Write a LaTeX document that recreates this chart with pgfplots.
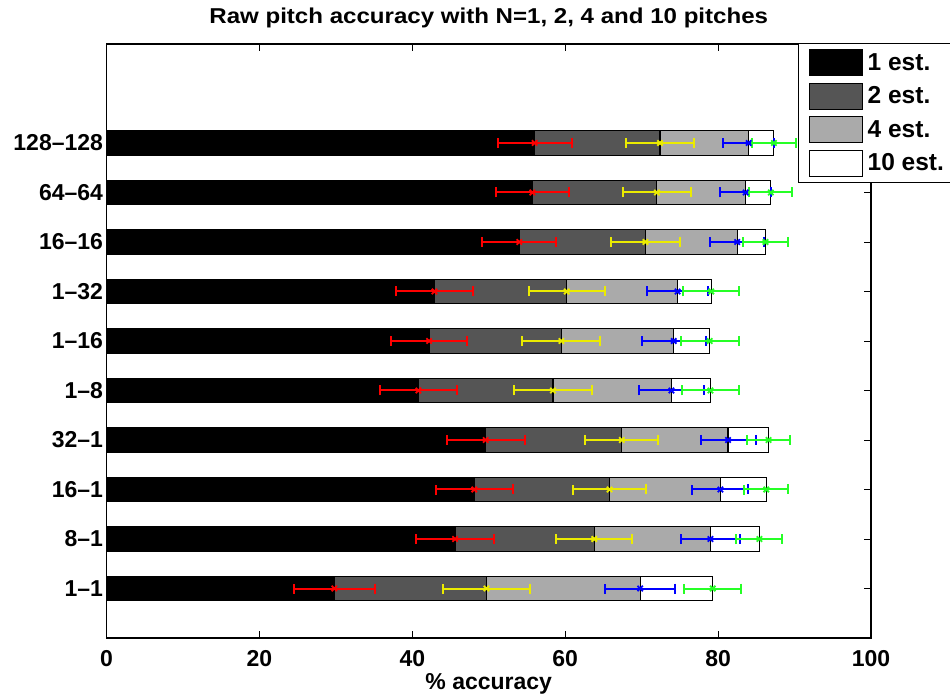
\documentclass[border=0pt]{standalone}
\usepackage{graphicx}
\usepackage{pgfplots}
\pgfplotsset{compat=1.18}
\usepackage{fontspec}
\setmainfont{Liberation Sans}
\definecolor{dgray}{gray}{0.333}
\definecolor{lgray}{gray}{0.667}
\definecolor{myyellow}{rgb}{0.92,0.92,0}
\definecolor{mygreen}{rgb}{0.15,1,0.15}
\newcommand\F{\fontsize{23}{27}\selectfont\bfseries}
\newcommand\T{\fontsize{21.5}{25}\selectfont\bfseries}
\newcommand\LF{\fontsize{24.5}{28}\selectfont\bfseries}
\pgfplotsset{
  errstyle/.style={only marks, mark=x, mark size=3.8pt, line width=2pt, forget plot,
    mark options={#1, line width=1.8pt},
    error bars/.cd, x dir=both, x explicit,
    error bar style={line width=2pt, #1},
    error mark options={rotate=90, mark size=5pt, line width=2pt, #1}},
  barstyle/.style={xbar, bar width=0.5, bar shift=0pt, fill=#1, draw=black, line width=1.1pt}
}
\begin{document}
\begin{tikzpicture}
\begin{axis}[
  at={(106.5pt,61pt)}, anchor=south west,
  width=764.5pt, height=594pt, scale only axis,
  xmin=0, xmax=100, ymin=0, ymax=12,
  xtick={0,20,40,60,80,100},
  xticklabels={0,20,40,60,80,100},
  ytick={1,2,3,4,5,6,7,8,9,10},
  yticklabels={1--1,8--1,16--1,32--1,1--8,1--16,1--32,16--16,64--64,128--128},
  tick align=inside,
  major tick length=7pt,
  ticklabel pos=left,
  tick style={black, line width=0.8pt},
  axis line style={line width=1.3pt},
  tick label style={font=\F},
  xticklabel style={anchor=base, yshift=-28pt},
  title={\scalebox{1.12}[1]{Raw pitch accuracy with N=1, 2, 4 and 10 pitches}},
  title style={font=\T, at={(axis description cs:0.5,1)}, anchor=base, yshift=14pt},
  xlabel={\% accuracy},
  xlabel style={font=\F, at={(axis description cs:0.5,0)}, anchor=base, yshift=-51pt},
  legend style={font=\LF, at={(axis description cs:0.9045,1.0025)}, anchor=north west,
    draw=black, line width=1.3pt, inner xsep=10pt, inner ysep=6pt, row sep=6.5pt,
    nodes={inner sep=0pt, anchor=west}},
  reverse legend,
  legend image code/.code={\draw[#1, line width=1pt] (0pt,-13pt) rectangle (53pt,13pt); \path (58pt,0pt);},
]
\addplot[barstyle=white] coordinates {(79.3,1) (85.4,2) (86.3,3) (86.6,4) (79.0,5) (78.9,6) (79.1,7) (86.2,8) (86.9,9) (87.3,10)};
\addlegendentry{10 est.\hspace*{20pt}}
\addplot[barstyle=lgray] coordinates {(69.8,1) (79.0,2) (80.3,3) (81.3,4) (73.9,5) (74.2,6) (74.7,7) (82.5,8) (83.6,9) (84.0,10)};
\addlegendentry{4 est.}
\addplot[barstyle=dgray] coordinates {(49.7,1) (63.8,2) (65.8,3) (67.4,4) (58.4,5) (59.5,6) (60.2,7) (70.5,8) (72.0,9) (72.4,10)};
\addlegendentry{2 est.}
\addplot[barstyle=black] coordinates {(29.8,1) (45.6,2) (48.1,3) (49.6,4) (40.8,5) (42.2,6) (42.9,7) (54.0,8) (55.7,9) (56.0,10)};
\addlegendentry{1 est.}
\addplot[errstyle=red] coordinates {(29.8,1) +- (5.3,0) (45.6,2) +- (5.1,0) (48.1,3) +- (5.05,0) (49.6,4) +- (5.1,0) (40.8,5) +- (5.05,0) (42.2,6) +- (5.0,0) (42.9,7) +- (5.05,0) (54.0,8) +- (4.85,0) (55.7,9) +- (4.8,0) (56.0,10) +- (4.85,0)};
\addplot[errstyle=myyellow] coordinates {(49.7,1) +- (5.75,0) (63.8,2) +- (5.0,0) (65.8,3) +- (4.8,0) (67.4,4) +- (4.75,0) (58.4,5) +- (5.1,0) (59.5,6) +- (5.1,0) (60.2,7) +- (4.95,0) (70.5,8) +- (4.55,0) (72.0,9) +- (4.5,0) (72.4,10) +- (4.4,0)};
\addplot[errstyle=blue] coordinates {(69.8,1) +- (4.6,0) (79.0,2) +- (3.8,0) (80.3,3) +- (3.65,0) (81.3,4) +- (3.6,0) (73.9,5) +- (4.25,0) (74.2,6) +- (4.2,0) (74.7,7) +- (4.0,0) (82.5,8) +- (3.5,0) (83.6,9) +- (3.3,0) (84.0,10) +- (3.3,0)};
\addplot[errstyle=mygreen] coordinates {(79.3,1) +- (3.7,0) (85.4,2) +- (3.0,0) (86.3,3) +- (2.9,0) (86.6,4) +- (2.8,0) (79.0,5) +- (3.7,0) (78.9,6) +- (3.8,0) (79.1,7) +- (3.65,0) (86.2,8) +- (2.9,0) (86.9,9) +- (2.8,0) (87.3,10) +- (2.85,0)};
\end{axis}
\pgfresetboundingbox
\path[use as bounding box] (0,0) rectangle (950pt,699pt);
\end{tikzpicture}
\end{document}
